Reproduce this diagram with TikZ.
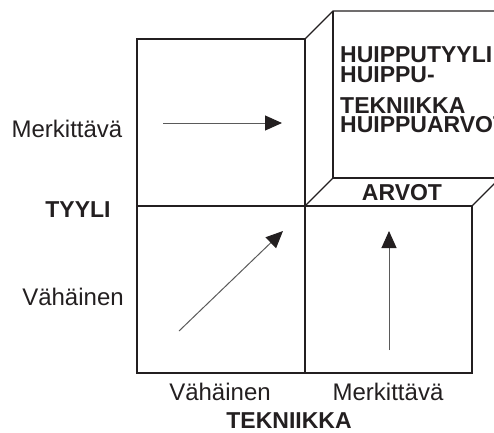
\documentclass[tikz,border=0pt]{standalone}
\usepackage{fontspec}
\setmainfont{Liberation Sans}
\usetikzlibrary{arrows.meta}
\definecolor{ink}{HTML}{231F20}
\definecolor{shaft}{HTML}{5A5A5A}
\begin{document}
\begin{tikzpicture}[x=1pt,y=-1pt,
  frame/.style={draw=ink,line width=1.8pt,line join=miter},
  edge/.style={draw=ink,line width=1.3pt},
  move/.style={draw=shaft,line width=1pt,
    -{Triangle[length=17pt,width=15pt,color=ink]}},
  lbl/.style={inner sep=0pt,anchor=base,font=\fontsize{24}{24}\selectfont,text=ink},
  hd/.style={inner sep=0pt,anchor=base,font=\bfseries\fontsize{23}{23}\selectfont,text=ink},
  blk/.style={inner sep=0pt,anchor=base west,font=\bfseries\fontsize{23}{23}\selectfont,text=ink}]
\useasboundingbox (0,0) rectangle (494,432);
\clip (0,0) rectangle (494,432);

% grid corners
\coordinate (tl) at (137,39);
\coordinate (tm) at (305,39);
\coordinate (ml) at (137,206);
\coordinate (mm) at (305,206);
\coordinate (mr) at (472,206);
\coordinate (bl) at (137,373);
\coordinate (bm) at (305,373);
\coordinate (br) at (472,373);
% raised block (back face)
\coordinate (btl) at (333,11);
\coordinate (btr) at (520,11);
\coordinate (bbl) at (333,178);
\coordinate (bbr) at (500,178);

% the four quadrants
\draw[frame] (mm) -- (tm) -- (tl) -- (bl) -- (br) -- (mr);
\draw[frame] (ml) -- (mm) -- (bm);
\draw[edge] (mm) -- (mr);

% extruded upper-right block
\draw[edge] (tm) -- (btl) -- (btr);
\draw[edge] (btl) -- (bbl) -- (bbr);
\draw[edge] (mm) -- (bbl);
\draw[edge] (mr) -- (bbr);

% movement arrows
\coordinate (h0) at (163,123);  \coordinate (h1) at (282,123);
\coordinate (d0) at (179,331);  \coordinate (d1) at (283,231);
\coordinate (v0) at (389,350);  \coordinate (v1) at (389,231);
\draw[move] (h0) -- (h1);
\draw[move] (d0) -- (d1);
\draw[move] (v0) -- (v1);

% axis labels
\node[lbl] (ysig) at (67,137) {Merkittävä};
\node[hd]  (yax)  at (78,217) {TYYLI};
\node[lbl] (ylow) at (73,305) {Vähäinen};
\node[lbl] (xlow) at (220,400) {Vähäinen};
\node[lbl] (xsig) at (388,400) {Merkittävä};
\node[hd]  (xax)  at (289,428) {TEKNIIKKA};

% block texts
\node[hd] (arvot) at (402,200) {ARVOT};
\node[blk] (t1) at (340,62)  {HUIPPUTYYLI};
\node[blk] (t2) at (340,82)  {HUIPPU-};
\node[blk] (t3) at (340,113) {TEKNIIKKA};
\node[blk] (t4) at (340,132) {HUIPPUARVOT};
\end{tikzpicture}
\end{document}
